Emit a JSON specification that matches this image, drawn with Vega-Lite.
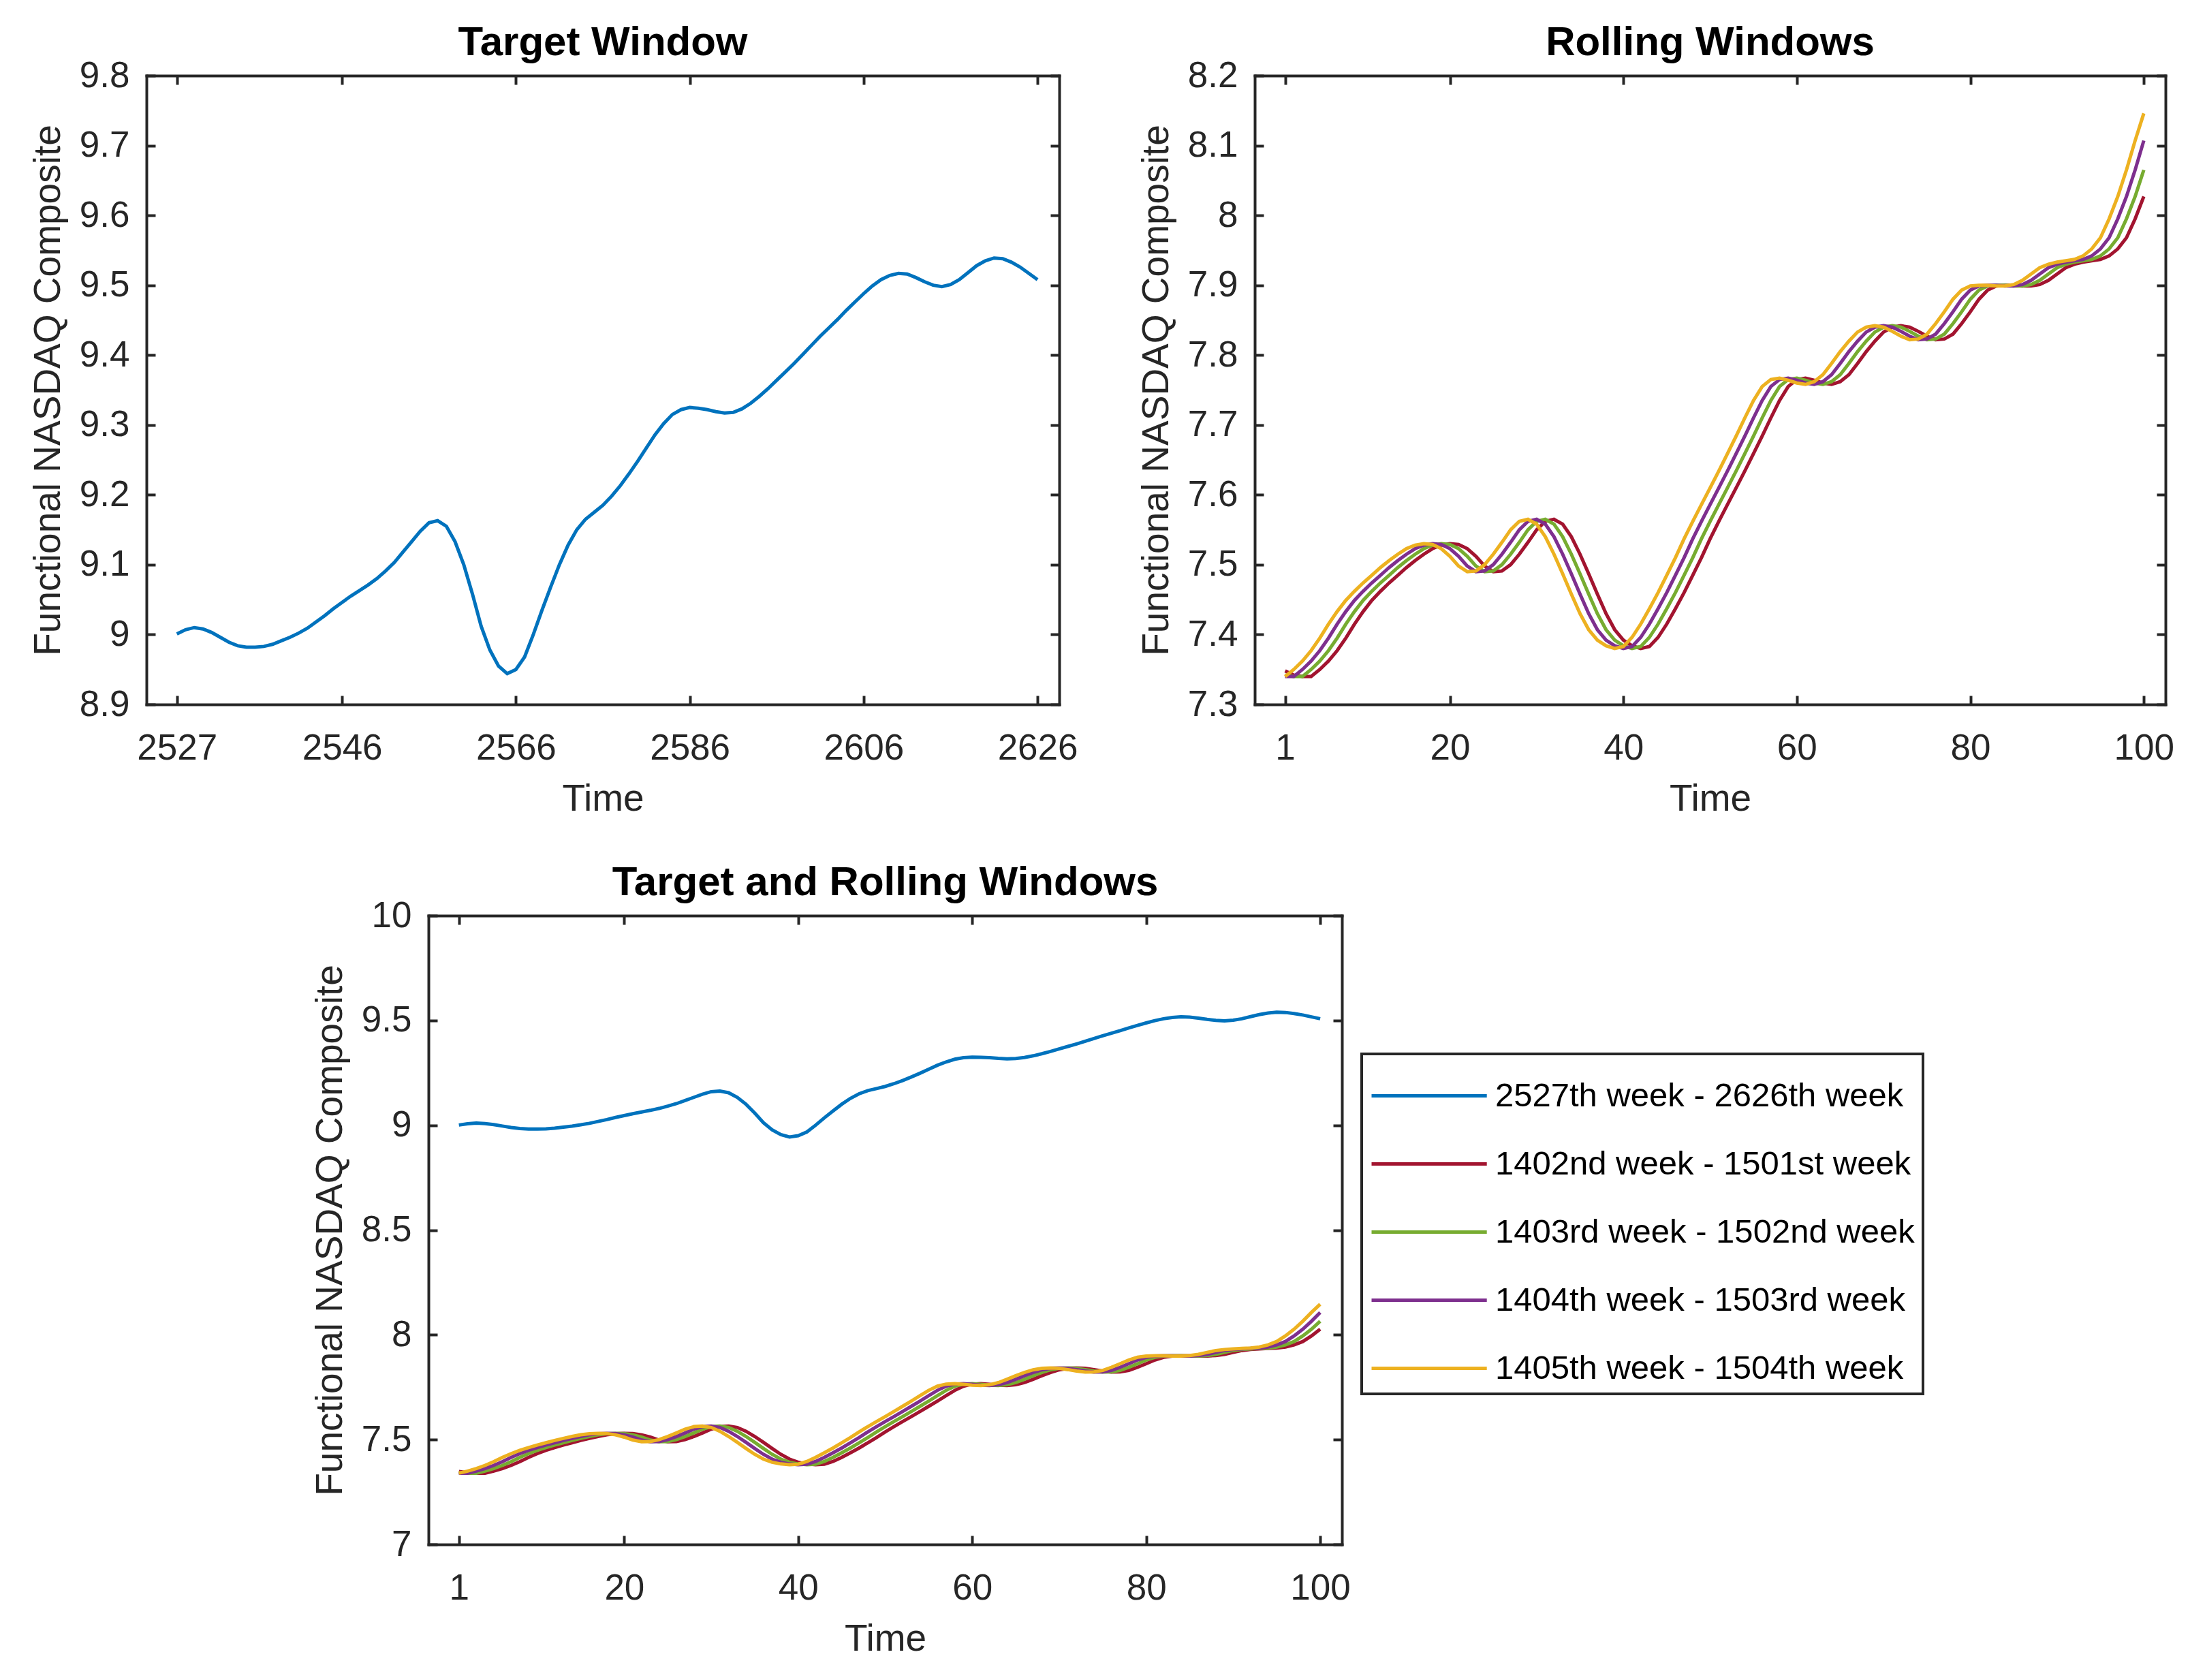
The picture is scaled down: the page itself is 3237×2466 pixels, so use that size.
{
"$schema": "https://vega.github.io/schema/vega-lite/v6.json",
"autosize": {"type": "none"},
"padding": {"left": 215, "top": 111, "right": 3022, "bottom": 2355},
"background": "white",
"config": {
  "font": "Liberation Sans",
  "view": {"stroke": null},
  "axis": {"domainColor": "#262626", "domainWidth": 4, "domainCap": "square", "tickColor": "#262626", "tickWidth": 4, "tickSize": -13, "labelColor": "#262626", "labelFontSize": 53, "labelFont": "Liberation Sans", "titleFont": "Liberation Sans", "titleFontSize": 55, "titleColor": "#262626", "titleFontWeight": "normal", "grid": false, "labelFlush": false, "labelOverlap": false, "labelBound": false},
  "title": {"fontSize": 60, "fontWeight": "bold", "color": "black", "font": "Liberation Sans", "baseline": "alphabetic", "offset": 28, "dy": 37},
  "legend": {"strokeWidth": 4}
},
"datasets": {"all": [
{"s":"T","t":1,"v":9.001},{"s":"T","t":2,"v":9.007},{"s":"T","t":3,"v":9.010},{"s":"T","t":4,"v":9.008},{"s":"T","t":5,"v":9.003},{"s":"T","t":6,"v":8.996},{"s":"T","t":7,"v":8.989},{"s":"T","t":8,"v":8.984},{"s":"T","t":9,"v":8.982},{"s":"T","t":10,"v":8.982},
{"s":"T","t":11,"v":8.983},{"s":"T","t":12,"v":8.986},{"s":"T","t":13,"v":8.991},{"s":"T","t":14,"v":8.996},{"s":"T","t":15,"v":9.002},{"s":"T","t":16,"v":9.009},{"s":"T","t":17,"v":9.018},{"s":"T","t":18,"v":9.027},{"s":"T","t":19,"v":9.037},{"s":"T","t":20,"v":9.046},
{"s":"T","t":21,"v":9.055},{"s":"T","t":22,"v":9.063},{"s":"T","t":23,"v":9.071},{"s":"T","t":24,"v":9.080},{"s":"T","t":25,"v":9.091},{"s":"T","t":26,"v":9.103},{"s":"T","t":27,"v":9.118},{"s":"T","t":28,"v":9.133},{"s":"T","t":29,"v":9.148},{"s":"T","t":30,"v":9.160},
{"s":"T","t":31,"v":9.163},{"s":"T","t":32,"v":9.155},{"s":"T","t":33,"v":9.133},{"s":"T","t":34,"v":9.100},{"s":"T","t":35,"v":9.058},{"s":"T","t":36,"v":9.012},{"s":"T","t":37,"v":8.978},{"s":"T","t":38,"v":8.955},{"s":"T","t":39,"v":8.944},{"s":"T","t":40,"v":8.950},
{"s":"T","t":41,"v":8.968},{"s":"T","t":42,"v":9.000},{"s":"T","t":43,"v":9.035},{"s":"T","t":44,"v":9.068},{"s":"T","t":45,"v":9.100},{"s":"T","t":46,"v":9.128},{"s":"T","t":47,"v":9.150},{"s":"T","t":48,"v":9.165},{"s":"T","t":49,"v":9.175},{"s":"T","t":50,"v":9.185},
{"s":"T","t":51,"v":9.198},{"s":"T","t":52,"v":9.213},{"s":"T","t":53,"v":9.230},{"s":"T","t":54,"v":9.248},{"s":"T","t":55,"v":9.267},{"s":"T","t":56,"v":9.286},{"s":"T","t":57,"v":9.302},{"s":"T","t":58,"v":9.315},{"s":"T","t":59,"v":9.322},{"s":"T","t":60,"v":9.325},
{"s":"T","t":61,"v":9.324},{"s":"T","t":62,"v":9.322},{"s":"T","t":63,"v":9.319},{"s":"T","t":64,"v":9.317},{"s":"T","t":65,"v":9.318},{"s":"T","t":66,"v":9.323},{"s":"T","t":67,"v":9.331},{"s":"T","t":68,"v":9.341},{"s":"T","t":69,"v":9.352},{"s":"T","t":70,"v":9.364},
{"s":"T","t":71,"v":9.376},{"s":"T","t":72,"v":9.388},{"s":"T","t":73,"v":9.401},{"s":"T","t":74,"v":9.414},{"s":"T","t":75,"v":9.427},{"s":"T","t":76,"v":9.439},{"s":"T","t":77,"v":9.451},{"s":"T","t":78,"v":9.464},{"s":"T","t":79,"v":9.476},{"s":"T","t":80,"v":9.488},
{"s":"T","t":81,"v":9.499},{"s":"T","t":82,"v":9.508},{"s":"T","t":83,"v":9.514},{"s":"T","t":84,"v":9.517},{"s":"T","t":85,"v":9.516},{"s":"T","t":86,"v":9.511},{"s":"T","t":87,"v":9.505},{"s":"T","t":88,"v":9.500},{"s":"T","t":89,"v":9.498},{"s":"T","t":90,"v":9.501},
{"s":"T","t":91,"v":9.508},{"s":"T","t":92,"v":9.518},{"s":"T","t":93,"v":9.528},{"s":"T","t":94,"v":9.535},{"s":"T","t":95,"v":9.539},{"s":"T","t":96,"v":9.538},{"s":"T","t":97,"v":9.533},{"s":"T","t":98,"v":9.526},{"s":"T","t":99,"v":9.517},{"s":"T","t":100,"v":9.508},
{"s":"A","t":1,"v":7.348},{"s":"A","t":2,"v":7.342},{"s":"A","t":3,"v":7.340},{"s":"A","t":4,"v":7.340},{"s":"A","t":5,"v":7.350},{"s":"A","t":6,"v":7.362},{"s":"A","t":7,"v":7.377},{"s":"A","t":8,"v":7.395},{"s":"A","t":9,"v":7.415},{"s":"A","t":10,"v":7.433},
{"s":"A","t":11,"v":7.449},{"s":"A","t":12,"v":7.462},{"s":"A","t":13,"v":7.474},{"s":"A","t":14,"v":7.485},{"s":"A","t":15,"v":7.496},{"s":"A","t":16,"v":7.506},{"s":"A","t":17,"v":7.515},{"s":"A","t":18,"v":7.523},{"s":"A","t":19,"v":7.528},{"s":"A","t":20,"v":7.530},
{"s":"A","t":21,"v":7.529},{"s":"A","t":22,"v":7.523},{"s":"A","t":23,"v":7.512},{"s":"A","t":24,"v":7.498},{"s":"A","t":25,"v":7.490},{"s":"A","t":26,"v":7.491},{"s":"A","t":27,"v":7.500},{"s":"A","t":28,"v":7.515},{"s":"A","t":29,"v":7.532},{"s":"A","t":30,"v":7.550},
{"s":"A","t":31,"v":7.562},{"s":"A","t":32,"v":7.565},{"s":"A","t":33,"v":7.558},{"s":"A","t":34,"v":7.540},{"s":"A","t":35,"v":7.515},{"s":"A","t":36,"v":7.487},{"s":"A","t":37,"v":7.458},{"s":"A","t":38,"v":7.430},{"s":"A","t":39,"v":7.407},{"s":"A","t":40,"v":7.392},
{"s":"A","t":41,"v":7.384},{"s":"A","t":42,"v":7.380},{"s":"A","t":43,"v":7.383},{"s":"A","t":44,"v":7.396},{"s":"A","t":45,"v":7.415},{"s":"A","t":46,"v":7.437},{"s":"A","t":47,"v":7.460},{"s":"A","t":48,"v":7.485},{"s":"A","t":49,"v":7.510},{"s":"A","t":50,"v":7.537},
{"s":"A","t":51,"v":7.562},{"s":"A","t":52,"v":7.586},{"s":"A","t":53,"v":7.610},{"s":"A","t":54,"v":7.634},{"s":"A","t":55,"v":7.659},{"s":"A","t":56,"v":7.684},{"s":"A","t":57,"v":7.710},{"s":"A","t":58,"v":7.735},{"s":"A","t":59,"v":7.755},{"s":"A","t":60,"v":7.765},
{"s":"A","t":61,"v":7.767},{"s":"A","t":62,"v":7.764},{"s":"A","t":63,"v":7.760},{"s":"A","t":64,"v":7.758},{"s":"A","t":65,"v":7.762},{"s":"A","t":66,"v":7.772},{"s":"A","t":67,"v":7.788},{"s":"A","t":68,"v":7.805},{"s":"A","t":69,"v":7.820},{"s":"A","t":70,"v":7.833},
{"s":"A","t":71,"v":7.840},{"s":"A","t":72,"v":7.842},{"s":"A","t":73,"v":7.840},{"s":"A","t":74,"v":7.834},{"s":"A","t":75,"v":7.827},{"s":"A","t":76,"v":7.822},{"s":"A","t":77,"v":7.823},{"s":"A","t":78,"v":7.830},{"s":"A","t":79,"v":7.845},{"s":"A","t":80,"v":7.862},
{"s":"A","t":81,"v":7.880},{"s":"A","t":82,"v":7.893},{"s":"A","t":83,"v":7.899},{"s":"A","t":84,"v":7.900},{"s":"A","t":85,"v":7.900},{"s":"A","t":86,"v":7.899},{"s":"A","t":87,"v":7.899},{"s":"A","t":88,"v":7.901},{"s":"A","t":89,"v":7.907},{"s":"A","t":90,"v":7.916},
{"s":"A","t":91,"v":7.925},{"s":"A","t":92,"v":7.930},{"s":"A","t":93,"v":7.933},{"s":"A","t":94,"v":7.935},{"s":"A","t":95,"v":7.937},{"s":"A","t":96,"v":7.942},{"s":"A","t":97,"v":7.952},{"s":"A","t":98,"v":7.968},{"s":"A","t":99,"v":7.995},{"s":"A","t":100,"v":8.027},
{"s":"B","t":1,"v":7.342},{"s":"B","t":2,"v":7.340},{"s":"B","t":3,"v":7.340},{"s":"B","t":4,"v":7.350},{"s":"B","t":5,"v":7.362},{"s":"B","t":6,"v":7.377},{"s":"B","t":7,"v":7.395},{"s":"B","t":8,"v":7.415},{"s":"B","t":9,"v":7.433},{"s":"B","t":10,"v":7.449},
{"s":"B","t":11,"v":7.462},{"s":"B","t":12,"v":7.474},{"s":"B","t":13,"v":7.485},{"s":"B","t":14,"v":7.496},{"s":"B","t":15,"v":7.506},{"s":"B","t":16,"v":7.515},{"s":"B","t":17,"v":7.523},{"s":"B","t":18,"v":7.528},{"s":"B","t":19,"v":7.530},{"s":"B","t":20,"v":7.529},
{"s":"B","t":21,"v":7.523},{"s":"B","t":22,"v":7.512},{"s":"B","t":23,"v":7.498},{"s":"B","t":24,"v":7.490},{"s":"B","t":25,"v":7.491},{"s":"B","t":26,"v":7.500},{"s":"B","t":27,"v":7.515},{"s":"B","t":28,"v":7.532},{"s":"B","t":29,"v":7.550},{"s":"B","t":30,"v":7.562},
{"s":"B","t":31,"v":7.565},{"s":"B","t":32,"v":7.558},{"s":"B","t":33,"v":7.540},{"s":"B","t":34,"v":7.515},{"s":"B","t":35,"v":7.487},{"s":"B","t":36,"v":7.458},{"s":"B","t":37,"v":7.430},{"s":"B","t":38,"v":7.407},{"s":"B","t":39,"v":7.392},{"s":"B","t":40,"v":7.384},
{"s":"B","t":41,"v":7.380},{"s":"B","t":42,"v":7.383},{"s":"B","t":43,"v":7.396},{"s":"B","t":44,"v":7.415},{"s":"B","t":45,"v":7.437},{"s":"B","t":46,"v":7.460},{"s":"B","t":47,"v":7.485},{"s":"B","t":48,"v":7.510},{"s":"B","t":49,"v":7.537},{"s":"B","t":50,"v":7.562},
{"s":"B","t":51,"v":7.586},{"s":"B","t":52,"v":7.610},{"s":"B","t":53,"v":7.634},{"s":"B","t":54,"v":7.659},{"s":"B","t":55,"v":7.684},{"s":"B","t":56,"v":7.710},{"s":"B","t":57,"v":7.735},{"s":"B","t":58,"v":7.755},{"s":"B","t":59,"v":7.765},{"s":"B","t":60,"v":7.767},
{"s":"B","t":61,"v":7.764},{"s":"B","t":62,"v":7.760},{"s":"B","t":63,"v":7.758},{"s":"B","t":64,"v":7.762},{"s":"B","t":65,"v":7.772},{"s":"B","t":66,"v":7.788},{"s":"B","t":67,"v":7.805},{"s":"B","t":68,"v":7.820},{"s":"B","t":69,"v":7.833},{"s":"B","t":70,"v":7.840},
{"s":"B","t":71,"v":7.842},{"s":"B","t":72,"v":7.840},{"s":"B","t":73,"v":7.834},{"s":"B","t":74,"v":7.827},{"s":"B","t":75,"v":7.822},{"s":"B","t":76,"v":7.823},{"s":"B","t":77,"v":7.830},{"s":"B","t":78,"v":7.845},{"s":"B","t":79,"v":7.862},{"s":"B","t":80,"v":7.880},
{"s":"B","t":81,"v":7.893},{"s":"B","t":82,"v":7.899},{"s":"B","t":83,"v":7.900},{"s":"B","t":84,"v":7.900},{"s":"B","t":85,"v":7.899},{"s":"B","t":86,"v":7.899},{"s":"B","t":87,"v":7.901},{"s":"B","t":88,"v":7.907},{"s":"B","t":89,"v":7.916},{"s":"B","t":90,"v":7.925},
{"s":"B","t":91,"v":7.930},{"s":"B","t":92,"v":7.933},{"s":"B","t":93,"v":7.935},{"s":"B","t":94,"v":7.937},{"s":"B","t":95,"v":7.942},{"s":"B","t":96,"v":7.952},{"s":"B","t":97,"v":7.968},{"s":"B","t":98,"v":7.995},{"s":"B","t":99,"v":8.027},{"s":"B","t":100,"v":8.065},
{"s":"C","t":1,"v":7.340},{"s":"C","t":2,"v":7.340},{"s":"C","t":3,"v":7.350},{"s":"C","t":4,"v":7.362},{"s":"C","t":5,"v":7.377},{"s":"C","t":6,"v":7.395},{"s":"C","t":7,"v":7.415},{"s":"C","t":8,"v":7.433},{"s":"C","t":9,"v":7.449},{"s":"C","t":10,"v":7.462},
{"s":"C","t":11,"v":7.474},{"s":"C","t":12,"v":7.485},{"s":"C","t":13,"v":7.496},{"s":"C","t":14,"v":7.506},{"s":"C","t":15,"v":7.515},{"s":"C","t":16,"v":7.523},{"s":"C","t":17,"v":7.528},{"s":"C","t":18,"v":7.530},{"s":"C","t":19,"v":7.529},{"s":"C","t":20,"v":7.523},
{"s":"C","t":21,"v":7.512},{"s":"C","t":22,"v":7.498},{"s":"C","t":23,"v":7.490},{"s":"C","t":24,"v":7.491},{"s":"C","t":25,"v":7.500},{"s":"C","t":26,"v":7.515},{"s":"C","t":27,"v":7.532},{"s":"C","t":28,"v":7.550},{"s":"C","t":29,"v":7.562},{"s":"C","t":30,"v":7.565},
{"s":"C","t":31,"v":7.558},{"s":"C","t":32,"v":7.540},{"s":"C","t":33,"v":7.515},{"s":"C","t":34,"v":7.487},{"s":"C","t":35,"v":7.458},{"s":"C","t":36,"v":7.430},{"s":"C","t":37,"v":7.407},{"s":"C","t":38,"v":7.392},{"s":"C","t":39,"v":7.384},{"s":"C","t":40,"v":7.380},
{"s":"C","t":41,"v":7.383},{"s":"C","t":42,"v":7.396},{"s":"C","t":43,"v":7.415},{"s":"C","t":44,"v":7.437},{"s":"C","t":45,"v":7.460},{"s":"C","t":46,"v":7.485},{"s":"C","t":47,"v":7.510},{"s":"C","t":48,"v":7.537},{"s":"C","t":49,"v":7.562},{"s":"C","t":50,"v":7.586},
{"s":"C","t":51,"v":7.610},{"s":"C","t":52,"v":7.634},{"s":"C","t":53,"v":7.659},{"s":"C","t":54,"v":7.684},{"s":"C","t":55,"v":7.710},{"s":"C","t":56,"v":7.735},{"s":"C","t":57,"v":7.755},{"s":"C","t":58,"v":7.765},{"s":"C","t":59,"v":7.767},{"s":"C","t":60,"v":7.764},
{"s":"C","t":61,"v":7.760},{"s":"C","t":62,"v":7.758},{"s":"C","t":63,"v":7.762},{"s":"C","t":64,"v":7.772},{"s":"C","t":65,"v":7.788},{"s":"C","t":66,"v":7.805},{"s":"C","t":67,"v":7.820},{"s":"C","t":68,"v":7.833},{"s":"C","t":69,"v":7.840},{"s":"C","t":70,"v":7.842},
{"s":"C","t":71,"v":7.840},{"s":"C","t":72,"v":7.834},{"s":"C","t":73,"v":7.827},{"s":"C","t":74,"v":7.822},{"s":"C","t":75,"v":7.823},{"s":"C","t":76,"v":7.830},{"s":"C","t":77,"v":7.845},{"s":"C","t":78,"v":7.862},{"s":"C","t":79,"v":7.880},{"s":"C","t":80,"v":7.893},
{"s":"C","t":81,"v":7.899},{"s":"C","t":82,"v":7.900},{"s":"C","t":83,"v":7.900},{"s":"C","t":84,"v":7.899},{"s":"C","t":85,"v":7.899},{"s":"C","t":86,"v":7.901},{"s":"C","t":87,"v":7.907},{"s":"C","t":88,"v":7.916},{"s":"C","t":89,"v":7.925},{"s":"C","t":90,"v":7.930},
{"s":"C","t":91,"v":7.933},{"s":"C","t":92,"v":7.935},{"s":"C","t":93,"v":7.937},{"s":"C","t":94,"v":7.942},{"s":"C","t":95,"v":7.952},{"s":"C","t":96,"v":7.968},{"s":"C","t":97,"v":7.995},{"s":"C","t":98,"v":8.027},{"s":"C","t":99,"v":8.065},{"s":"C","t":100,"v":8.107},
{"s":"D","t":1,"v":7.340},{"s":"D","t":2,"v":7.350},{"s":"D","t":3,"v":7.362},{"s":"D","t":4,"v":7.377},{"s":"D","t":5,"v":7.395},{"s":"D","t":6,"v":7.415},{"s":"D","t":7,"v":7.433},{"s":"D","t":8,"v":7.449},{"s":"D","t":9,"v":7.462},{"s":"D","t":10,"v":7.474},
{"s":"D","t":11,"v":7.485},{"s":"D","t":12,"v":7.496},{"s":"D","t":13,"v":7.506},{"s":"D","t":14,"v":7.515},{"s":"D","t":15,"v":7.523},{"s":"D","t":16,"v":7.528},{"s":"D","t":17,"v":7.530},{"s":"D","t":18,"v":7.529},{"s":"D","t":19,"v":7.523},{"s":"D","t":20,"v":7.512},
{"s":"D","t":21,"v":7.498},{"s":"D","t":22,"v":7.490},{"s":"D","t":23,"v":7.491},{"s":"D","t":24,"v":7.500},{"s":"D","t":25,"v":7.515},{"s":"D","t":26,"v":7.532},{"s":"D","t":27,"v":7.550},{"s":"D","t":28,"v":7.562},{"s":"D","t":29,"v":7.565},{"s":"D","t":30,"v":7.558},
{"s":"D","t":31,"v":7.540},{"s":"D","t":32,"v":7.515},{"s":"D","t":33,"v":7.487},{"s":"D","t":34,"v":7.458},{"s":"D","t":35,"v":7.430},{"s":"D","t":36,"v":7.407},{"s":"D","t":37,"v":7.392},{"s":"D","t":38,"v":7.384},{"s":"D","t":39,"v":7.380},{"s":"D","t":40,"v":7.383},
{"s":"D","t":41,"v":7.396},{"s":"D","t":42,"v":7.415},{"s":"D","t":43,"v":7.437},{"s":"D","t":44,"v":7.460},{"s":"D","t":45,"v":7.485},{"s":"D","t":46,"v":7.510},{"s":"D","t":47,"v":7.537},{"s":"D","t":48,"v":7.562},{"s":"D","t":49,"v":7.586},{"s":"D","t":50,"v":7.610},
{"s":"D","t":51,"v":7.634},{"s":"D","t":52,"v":7.659},{"s":"D","t":53,"v":7.684},{"s":"D","t":54,"v":7.710},{"s":"D","t":55,"v":7.735},{"s":"D","t":56,"v":7.755},{"s":"D","t":57,"v":7.765},{"s":"D","t":58,"v":7.767},{"s":"D","t":59,"v":7.764},{"s":"D","t":60,"v":7.760},
{"s":"D","t":61,"v":7.758},{"s":"D","t":62,"v":7.762},{"s":"D","t":63,"v":7.772},{"s":"D","t":64,"v":7.788},{"s":"D","t":65,"v":7.805},{"s":"D","t":66,"v":7.820},{"s":"D","t":67,"v":7.833},{"s":"D","t":68,"v":7.840},{"s":"D","t":69,"v":7.842},{"s":"D","t":70,"v":7.840},
{"s":"D","t":71,"v":7.834},{"s":"D","t":72,"v":7.827},{"s":"D","t":73,"v":7.822},{"s":"D","t":74,"v":7.823},{"s":"D","t":75,"v":7.830},{"s":"D","t":76,"v":7.845},{"s":"D","t":77,"v":7.862},{"s":"D","t":78,"v":7.880},{"s":"D","t":79,"v":7.893},{"s":"D","t":80,"v":7.899},
{"s":"D","t":81,"v":7.900},{"s":"D","t":82,"v":7.900},{"s":"D","t":83,"v":7.899},{"s":"D","t":84,"v":7.899},{"s":"D","t":85,"v":7.901},{"s":"D","t":86,"v":7.907},{"s":"D","t":87,"v":7.916},{"s":"D","t":88,"v":7.925},{"s":"D","t":89,"v":7.930},{"s":"D","t":90,"v":7.933},
{"s":"D","t":91,"v":7.935},{"s":"D","t":92,"v":7.937},{"s":"D","t":93,"v":7.942},{"s":"D","t":94,"v":7.952},{"s":"D","t":95,"v":7.968},{"s":"D","t":96,"v":7.995},{"s":"D","t":97,"v":8.027},{"s":"D","t":98,"v":8.065},{"s":"D","t":99,"v":8.107},{"s":"D","t":100,"v":8.146}
]},
"bounds": "flush",
"spacing": 1233,
"resolve": {"scale": {"color": "independent"}, "legend": {"color": "independent"}},
"vconcat": [
{
  "bounds": "flush",
  "spacing": 287,
  "hconcat": [
  {
    "width": 1340, "height": 923,
    "title": {"text": "Target Window"},
    "data": {"name": "all"},
    "transform": [{"filter": "datum.s === 'T'"}],
    "layer": [
      {"mark": {"type": "line", "color": "#0072BD", "strokeWidth": 5},
       "encoding": {
         "x": {"field": "t", "type": "quantitative", "scale": {"domain": [-2.5, 102.5], "nice": false, "zero": false},
               "axis": {"orient": "bottom", "values": [1, 20, 40, 60, 80, 100], "labelExpr": "datum.value + 2526", "title": "Time", "labelPadding": 51, "titleY": 155, "titleBaseline": "alphabetic"}},
         "y": {"field": "v", "type": "quantitative", "scale": {"domain": [8.9, 9.8], "nice": false, "zero": false},
               "axis": {"orient": "left", "values": [8.9, 9, 9.1, 9.2, 9.3, 9.4, 9.5, 9.6, 9.7, 9.8], "format": ".1~f", "title": "Functional NASDAQ Composite", "labelPadding": 38, "titleX": -128, "titleBaseline": "alphabetic"}}
       }},
      {"mark": {"type": "line", "strokeOpacity": 0},
       "encoding": {
         "x": {"field": "t", "type": "quantitative", "axis": {"orient": "top", "values": [1, 20, 40, 60, 80, 100], "labels": false, "title": null}},
         "y": {"field": "v", "type": "quantitative", "axis": {"orient": "right", "values": [8.9, 9, 9.1, 9.2, 9.3, 9.4, 9.5, 9.6, 9.7, 9.8], "labels": false, "title": null}}
       }}
    ],
    "resolve": {"axis": {"x": "independent", "y": "independent"}}
  },
  {
    "width": 1337, "height": 923,
    "title": {"text": "Rolling Windows"},
    "data": {"name": "all"},
    "transform": [{"filter": "datum.s !== 'T'"}],
    "layer": [
      {"mark": {"type": "line", "strokeWidth": 5},
       "encoding": {
         "x": {"field": "t", "type": "quantitative", "scale": {"domain": [-2.5, 102.5], "nice": false, "zero": false},
               "axis": {"orient": "bottom", "values": [1, 20, 40, 60, 80, 100], "title": "Time", "labelPadding": 51, "titleY": 155, "titleBaseline": "alphabetic"}},
         "y": {"field": "v", "type": "quantitative", "scale": {"domain": [7.3, 8.2], "nice": false, "zero": false},
               "axis": {"orient": "left", "values": [7.3, 7.4, 7.5, 7.6, 7.7, 7.8, 7.9, 8, 8.1, 8.2], "format": ".1~f", "title": "Functional NASDAQ Composite", "labelPadding": 38, "titleX": -128, "titleBaseline": "alphabetic"}},
         "color": {"field": "s", "type": "nominal", "scale": {"domain": ["T", "A", "B", "C", "D"], "range": ["#0072BD", "#A2142F", "#77AC30", "#7E2F8E", "#EDB120"]}, "legend": null}
       }},
      {"mark": {"type": "line", "strokeOpacity": 0},
       "encoding": {
         "x": {"field": "t", "type": "quantitative", "axis": {"orient": "top", "values": [1, 20, 40, 60, 80, 100], "labels": false, "title": null}},
         "y": {"field": "v", "type": "quantitative", "axis": {"orient": "right", "values": [7.3, 7.4, 7.5, 7.6, 7.7, 7.8, 7.9, 8, 8.1, 8.2], "labels": false, "title": null}}
       }}
    ],
    "resolve": {"axis": {"x": "independent", "y": "independent"}}
  }
  ]
},
{
  "bounds": "flush",
  "spacing": 287,
  "hconcat": [
  {
    "width": 127, "height": 923,
    "data": {"values": [{"a": 0}]},
    "mark": {"type": "point", "opacity": 0}
  },
  {
    "width": 1341, "height": 923,
    "title": {"text": "Target and Rolling Windows"},
    "data": {"name": "all"},
    "layer": [
      {"mark": {"type": "line", "strokeWidth": 5},
       "encoding": {
         "x": {"field": "t", "type": "quantitative", "scale": {"domain": [-2.5, 102.5], "nice": false, "zero": false},
               "axis": {"orient": "bottom", "values": [1, 20, 40, 60, 80, 100], "title": "Time", "labelPadding": 51, "titleY": 155, "titleBaseline": "alphabetic"}},
         "y": {"field": "v", "type": "quantitative", "scale": {"domain": [7, 10], "nice": false, "zero": false},
               "axis": {"orient": "left", "values": [7, 7.5, 8, 8.5, 9, 9.5, 10], "format": ".1~f", "title": "Functional NASDAQ Composite", "labelPadding": 38, "titleX": -128, "titleBaseline": "alphabetic"}},
         "color": {"field": "s", "type": "nominal",
                   "scale": {"domain": ["T", "A", "B", "C", "D"], "range": ["#0072BD", "#A2142F", "#77AC30", "#7E2F8E", "#EDB120"]},
                   "legend": {"orient": "none", "legendX": 1784, "legendY": 203, "title": null, "symbolType": "M-1,0L2.6,0", "symbolSize": 8836, "symbolStrokeWidth": 5, "labelFontSize": 49, "labelColor": "black", "labelOffset": 85, "labelLimit": 2000, "padding": 12, "strokeColor": "#262626", "fillColor": "white", "rowPadding": 25,
                     "labelExpr": "datum.label == 'T' ? '2527th week - 2626th week' : datum.label == 'A' ? '1402nd week - 1501st week' : datum.label == 'B' ? '1403rd week - 1502nd week' : datum.label == 'C' ? '1404th week - 1503rd week' : '1405th week - 1504th week'"}}
       }},
      {"mark": {"type": "line", "strokeOpacity": 0},
       "encoding": {
         "x": {"field": "t", "type": "quantitative", "axis": {"orient": "top", "values": [1, 20, 40, 60, 80, 100], "labels": false, "title": null}},
         "y": {"field": "v", "type": "quantitative", "axis": {"orient": "right", "values": [7, 7.5, 8, 8.5, 9, 9.5, 10], "labels": false, "title": null}}
       }}
    ],
    "resolve": {"axis": {"x": "independent", "y": "independent"}}
  }
  ]
}
]
}
